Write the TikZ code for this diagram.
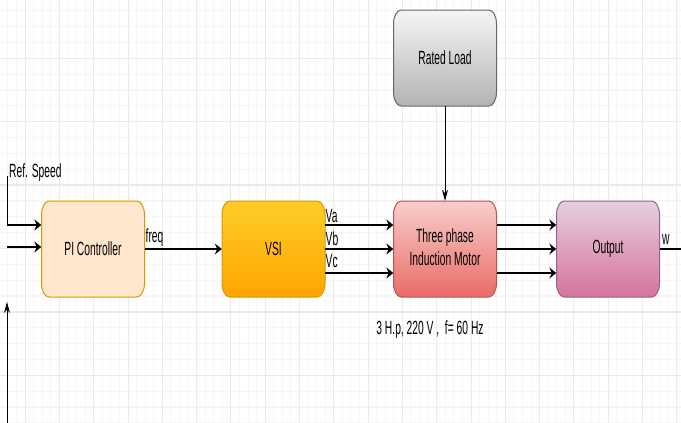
\documentclass[tikz,border=0pt]{standalone}
\usepackage{fontspec}
\setmainfont{Liberation Sans}
\usepackage{graphicx}
\usetikzlibrary{arrows.meta}

\definecolor{gridminor}{HTML}{F6F6F6}
\definecolor{gridmajor}{HTML}{EAEAEA}
\definecolor{piFill}{HTML}{FFE6CC}
\definecolor{orStroke}{HTML}{D79B00}
\definecolor{vsiTop}{HTML}{FFCD28}
\definecolor{vsiBot}{HTML}{FFA500}
\definecolor{imTop}{HTML}{F8CECC}
\definecolor{imBot}{HTML}{EA6B66}
\definecolor{imStroke}{HTML}{B85450}
\definecolor{outTop}{HTML}{E6D0DE}
\definecolor{outBot}{HTML}{D5739D}
\definecolor{outStroke}{HTML}{996185}
\definecolor{ldTop}{HTML}{F5F5F5}
\definecolor{ldBot}{HTML}{B3B3B3}
\definecolor{ldStroke}{HTML}{666666}

% text set narrow and tall, as in the stretched sheet
\newcommand\dtxt[1]{\scalebox{0.857}[1.59]{\fontsize{12}{14.4}\selectfont #1}}

% rounded block with elliptical corners: name, x, y, style, text
\newcommand\rbox[5]{%
  \shadedraw[#4] ({#2-51.5+7.7},{#3-48}) -- ({#2+51.5-7.7},{#3-48})
    arc[start angle=90,end angle=0,x radius=7.7pt,y radius=14pt]
    -- ({#2+51.5},{#3+48-14})
    arc[start angle=0,end angle=-90,x radius=7.7pt,y radius=14pt]
    -- ({#2-51.5+7.7},{#3+48})
    arc[start angle=270,end angle=180,x radius=7.7pt,y radius=14pt]
    -- ({#2-51.5},{#3-48+14})
    arc[start angle=180,end angle=90,x radius=7.7pt,y radius=14pt] -- cycle;
  \node[boxlbl] (#1) at (#2,#3) {\dtxt{#5}};
}

\tikzset{
  boxlbl/.style={minimum width=103pt, minimum height=96pt, inner sep=0pt, text=black},
  lbl/.style={inner sep=0pt, text=black, anchor=west},
  hline/.style={line width=1.6pt, black},
  vline/.style={line width=0.9pt, black},
  harr/.style={-{Stealth[length=7pt,width=11pt,inset=2.5pt]}},
  varr/.style={-{Stealth[length=11pt,width=6pt,inset=3.5pt]}},
  pistyle/.style={top color=piFill, bottom color=piFill, draw=orStroke, line width=1pt},
  vsistyle/.style={top color=vsiTop, bottom color=vsiBot, draw=orStroke, line width=1pt},
  imstyle/.style={top color=imTop, bottom color=imBot, draw=imStroke, line width=1pt},
  outstyle/.style={top color=outTop, bottom color=outBot, draw=outStroke, line width=1pt},
  ldstyle/.style={top color=ldTop, bottom color=ldBot, draw=ldStroke, line width=1pt},
}

\begin{document}
\begin{tikzpicture}[x=1pt,y=-1pt]
  \useasboundingbox (0,0) rectangle (681,423);
  \fill[white] (0,0) rectangle (681,423);

  % background grid
  \foreach \i in {-3,...,77} {
    \draw[gridminor, line width=0.8pt] ({25+8.575*\i},0) -- ({25+8.575*\i},423);
  }
  \foreach \j in {-4,...,24} {
    \draw[gridminor, line width=1.2pt] (0,{58.3+15.85*\j}) -- (681,{58.3+15.85*\j});
  }
  \foreach \i in {-1,...,19} {
    \draw[gridmajor, line width=0.8pt] ({25+34.3*\i},0) -- ({25+34.3*\i},423);
  }
  \foreach \j in {-1,...,6} {
    \draw[gridmajor, line width=1.3pt] (0,{58.3+63.4*\j}) -- (681,{58.3+63.4*\j});
  }

  % blocks
  \rbox{pi}{93}{249}{pistyle}{PI Controller}
  \rbox{vsi}{273.5}{249}{vsistyle}{VSI}
  \rbox{im}{445}{249}{imstyle}{\begin{tabular}{@{}c@{}}Three phase\\Induction Motor\end{tabular}}
  \rbox{out}{608}{249}{outstyle}{Output}
  \rbox{load}{445}{58}{ldstyle}{Rated Load}

  % inputs of the controller
  \coordinate (refTop) at (7,176);
  \coordinate (refBend) at (7,225);
  \coordinate (fbIn) at (7,247);
  \coordinate (fbBottom) at (7,423);
  \coordinate (fbTip) at (7,302);
  \draw[vline] (refTop) -- (refBend);
  \draw[hline,harr] (refBend) -- (refBend -| pi.west);
  \draw[hline,harr] (fbIn) -- (fbIn -| pi.west);
  \draw[vline,varr] (fbBottom) -- (fbTip);

  % forward path
  \draw[hline,harr] (pi.east) -- (vsi.west);
  \foreach \s in {24,0,-24} {
    \draw[hline,harr] ([yshift=\s pt]vsi.east) -- ([yshift=\s pt]im.west);
    \draw[hline,harr] ([yshift=\s pt]im.east) -- ([yshift=\s pt]out.west);
  }
  \coordinate (wEnd) at (681,249);
  \draw[hline] (out.east) -- (wEnd);
  \draw[vline,varr] (load.south) -- (im.north);

  % labels
  \node[lbl] (tRef) at (9,173) {\dtxt{Ref. Speed}};
  \node[lbl] (tFreq) at (145.5,238) {\dtxt{freq}};
  \node[lbl] (tVa) at (325.5,216) {\dtxt{Va}};
  \node[lbl] (tVb) at (325.5,238.5) {\dtxt{Vb}};
  \node[lbl] (tVc) at (325.5,261.5) {\dtxt{Vc}};
  \node[lbl] (tW) at (662,239) {\dtxt{w}};
  \node[inner sep=0pt] (tRating) at (430,330) {\dtxt{3 H.p, 220 V ,\ \ f= 60 Hz}};
\end{tikzpicture}
\end{document}
